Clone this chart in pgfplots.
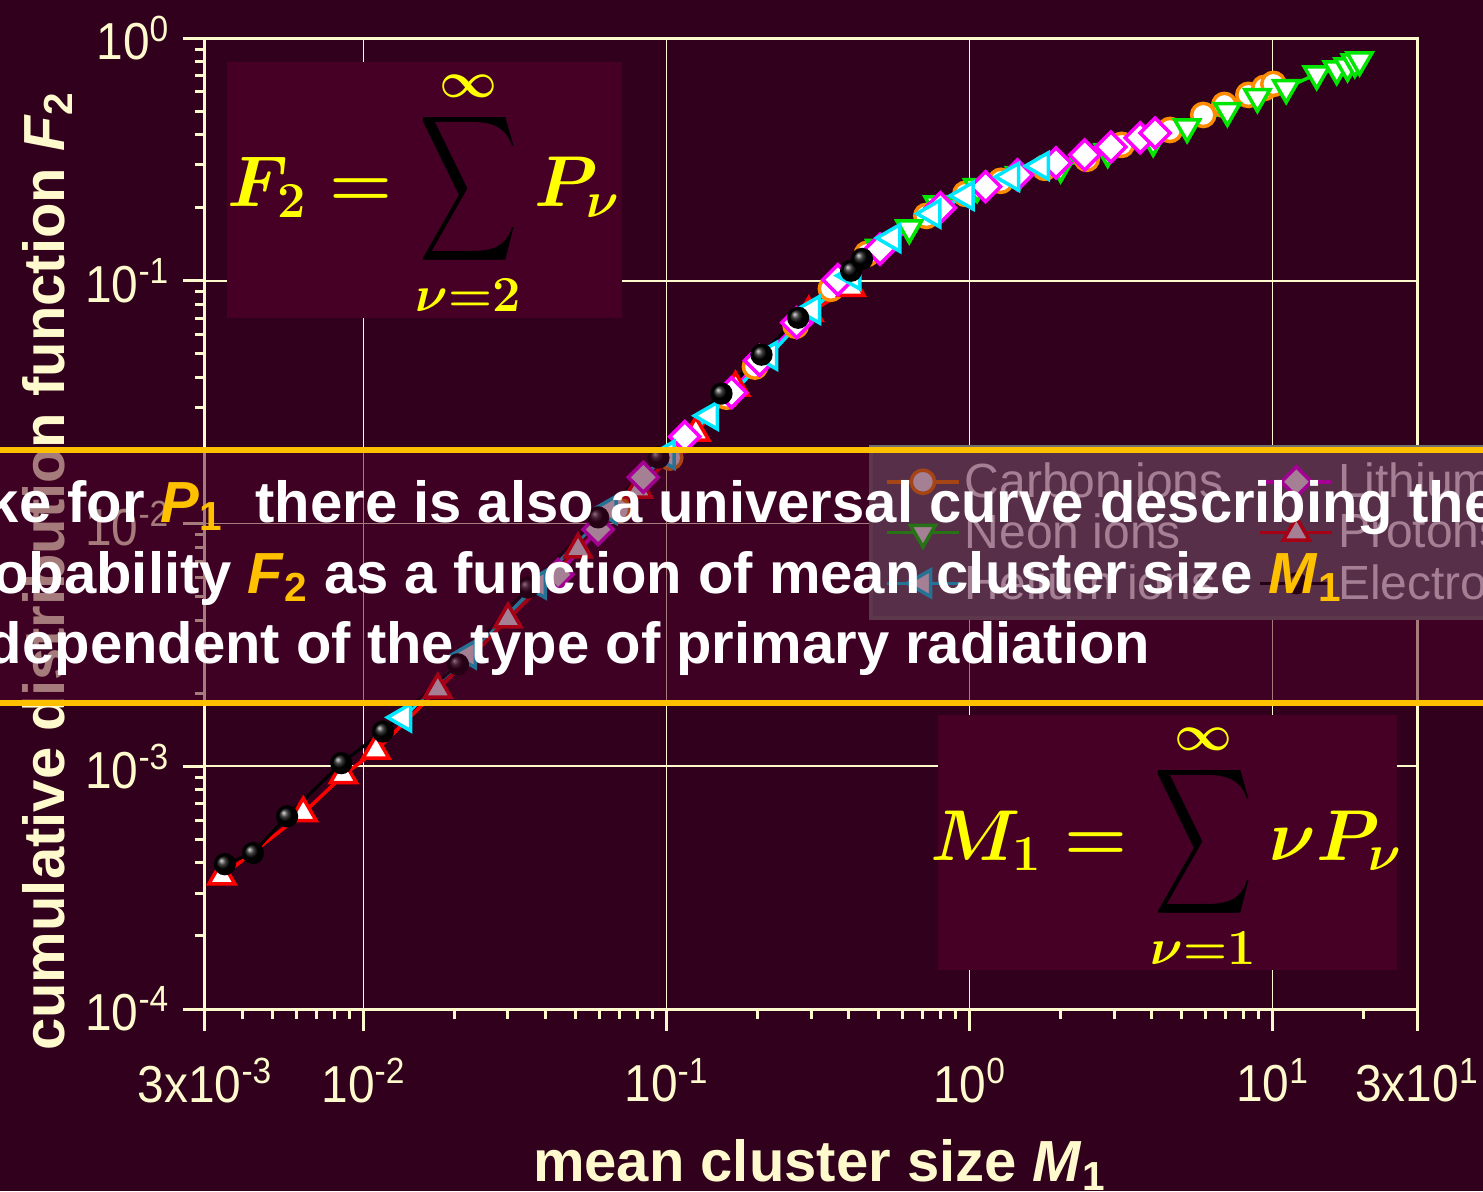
\RequirePackage{fix-cm}
\documentclass[border=0pt]{standalone}
\usepackage{amsmath}
\usepackage[no-math]{fontspec}
\setmainfont{Liberation Sans}
\usepackage{graphicx}
\usepackage{pgfplots}
\pgfplotsset{compat=1.18}
\definecolor{bg}{RGB}{48,0,28}
\definecolor{boxc}{RGB}{70,0,38}
\definecolor{bandc}{RGB}{76,0,42}
\definecolor{cream}{RGB}{255,250,205}
\definecolor{gold}{RGB}{255,192,0}
\definecolor{fyel}{RGB}{255,255,0}
\definecolor{corange}{RGB}{255,140,0}
\definecolor{cmag}{RGB}{255,0,255}
\definecolor{cgreen}{RGB}{0,230,0}
\definecolor{cred}{RGB}{255,0,0}
\definecolor{ccyan}{RGB}{0,230,255}
\definecolor{legfill}{RGB}{100,95,105}
\definecolor{legdraw}{RGB}{112,112,112}
\newsavebox\sumbox
\newsavebox\formA
\newsavebox\formB
\pgfplotsset{
  carbon/.style={draw=corange, line width=1.75pt, mark=*, mark size=5.8pt, mark options={solid, fill=white, draw=corange, line width=1.75pt}},
  neon/.style={draw=cgreen, line width=1.75pt, mark=triangle*, mark size=7.2pt, mark options={solid, rotate=180, fill=white, draw=cgreen, line width=1.75pt}},
  proton/.style={draw=cred, line width=1.75pt, mark=triangle*, mark size=7.5pt, mark options={solid, fill=white, draw=cred, line width=1.75pt}},
  lithium/.style={draw=cmag, line width=1.75pt, mark=square*, mark size=5.3pt, mark options={solid, rotate=45, fill=white, draw=cmag, line width=1.75pt}},
  helium/.style={draw=ccyan, line width=1.75pt, mark=triangle*, mark size=7.7pt, mark options={solid, rotate=90, fill=white, draw=ccyan, line width=1.75pt}},
  electron/.style={draw=black, line width=1.5pt, mark=ball, mark size=4.8pt, mark options={solid, ball color=black}},
}
\begin{document}
\sbox\sumbox{\fontsize{36}{40}\selectfont$\displaystyle\sum$}%
\sbox\formA{\fontsize{36}{40}\selectfont\color{fyel}\boldmath$F_2 = \mathop{\vcenter{\hbox{\scalebox{1.37}[2.05]{\usebox\sumbox}}}}\limits_{\nu=2}^{\infty} P_\nu$}%
\sbox\formB{\fontsize{36}{40}\selectfont\color{fyel}\boldmath$M_1 = \mathop{\vcenter{\hbox{\scalebox{1.37}[2.05]{\usebox\sumbox}}}}\limits_{\nu=1}^{\infty} \nu P_\nu$}%
\raisebox{0pt}[595.5pt][0pt]{%
\begin{tikzpicture}[trim left=0pt, trim right=741.5pt, baseline=0pt]
\clip (0,0) rectangle (741.5pt,595.5pt);
\fill[bg] (0,0) rectangle (741.5pt,595.5pt);
\begin{axis}[
  at={(102.5pt,91pt)}, anchor=south west,
  scale only axis, width=606pt, height=485.5pt,
  xmode=log, ymode=log, xmin=0.003, xmax=30, ymin=1e-4, ymax=1,
  axis line style={cream, line width=1.5pt},
  tick align=outside, xtick pos=left, ytick pos=left,
  major tick length=11pt, minor tick length=5pt,
  tick style={cream, line width=1.5pt},
  minor tick style={cream, line width=1.5pt},
  xtick={0.003,0.01,0.1,1,10,30},
  xticklabels={3x10\textsuperscript{-3},10\textsuperscript{-2},10\textsuperscript{-1},10\textsuperscript{0},10\textsuperscript{1},3x10\textsuperscript{1}},
  minor xtick={0.004,0.005,0.006,0.007,0.008,0.009,0.02,0.03,0.04,0.05,0.06,0.07,0.08,0.09,0.2,0.3,0.4,0.5,0.6,0.7,0.8,0.9,2,3,4,5,6,7,8,9,20},
  ytick={1e-4,1e-3,1e-2,1e-1,1},
  yticklabels={10\textsuperscript{-4},10\textsuperscript{-3},10\textsuperscript{-2},10\textsuperscript{-1},10\textsuperscript{0}},
  minor ytick={2e-4,3e-4,4e-4,5e-4,6e-4,7e-4,8e-4,9e-4,2e-3,3e-3,4e-3,5e-3,6e-3,7e-3,8e-3,9e-3,0.02,0.03,0.04,0.05,0.06,0.07,0.08,0.09,0.2,0.3,0.4,0.5,0.6,0.7,0.8,0.9},
  grid=major, major grid style={cream, line width=0.8pt},
  ticklabel style={text=cream, font=\fontsize{26}{30}\selectfont, xscale=0.92},
  xticklabel style={yshift=-10pt},
  yticklabel style={xshift=-4pt},
  xlabel={\bfseries mean cluster size \textit{M}\textsubscript{1}},
  ylabel={\bfseries cumulative distribution function \textit{F}\textsubscript{2}},
  x label style={at={(axis description cs:0.507,-0.178)}, anchor=base, inner sep=0pt, text=cream, font=\fontsize{29}{34}\selectfont},
  y label style={at={(axis description cs:-0.1163,0.451)}, anchor=base, inner sep=0pt, text=cream, font=\fontsize{29}{34}\selectfont},
  legend columns=2,
  legend cell align=left,
  legend style={at={(0.548,0.581)}, anchor=north west, fill=legfill, draw=legdraw, line width=2pt, text=white, font=\fontsize{24}{28}\selectfont, row sep=2.5pt, inner xsep=7pt, inner ysep=6pt},
  legend image code/.code={\draw[mark repeat=2,mark phase=2,#1] plot coordinates {(0pt,0pt) (18pt,0pt) (36pt,0pt)};},
]
\addlegendimage{carbon}\addlegendentry{\makebox[145pt][l]{Carbon ions}}
\addlegendimage{lithium}\addlegendentry{Lithium ions}
\addlegendimage{neon}\addlegendentry{\makebox[145pt][l]{Neon ions}}
\addlegendimage{proton}\addlegendentry{Protons}
\addlegendimage{helium}\addlegendentry{\makebox[145pt][l]{Helium ions}}
\addlegendimage{electron}\addlegendentry{Electrons}

\addplot[carbon, forget plot] coordinates {(0.0693,0.0114)(0.103,0.0187)(0.158,0.0333)(0.196,0.0443)(0.267,0.0653)(0.349,0.0927)(0.459,0.129)(0.721,0.185)(0.970,0.228)(1.27,0.258)(1.77,0.292)(2.44,0.318)(3.18,0.363)(4.59,0.418)(5.91,0.482)(6.94,0.530)(8.33,0.583)(9.41,0.623)(10.07,0.647)};
\addplot[neon, forget plot] coordinates {(0.504,0.137)(0.633,0.165)(0.784,0.207)(1.06,0.244)(1.46,0.273)(2.00,0.294)(2.86,0.340)(4.04,0.377)(5.23,0.430)(7.10,0.501)(8.92,0.572)(11.1,0.623)(14.0,0.711)(16.3,0.745)(17.7,0.767)(18.7,0.797)(19.4,0.811)};
\addplot[proton, forget plot] coordinates {(0.00341,3.52e-4)(0.00633,6.41e-4)(0.00859,9.19e-4)(0.0110,1.16e-3)(0.0176,2.07e-3)(0.0300,4.03e-3)(0.0511,7.82e-3)(0.0808,0.0138)(0.125,0.0237)(0.169,0.0363)(0.295,0.0738)(0.407,0.0935)};
\addplot[lithium, forget plot] coordinates {(0.0439,6.17e-3)(0.0595,9.45e-3)(0.0839,0.0155)(0.115,0.0228)(0.164,0.0346)(0.203,0.0469)(0.269,0.0672)(0.368,0.101)(0.507,0.135)(0.802,0.200)(1.13,0.244)(1.44,0.273)(1.93,0.306)(2.40,0.330)(2.93,0.356)(3.66,0.388)(4.10,0.406)};
\addplot[helium, forget plot] coordinates {(0.0135,1.59e-3)(0.0221,2.89e-3)(0.0376,5.61e-3)(0.0643,0.0114)(0.100,0.0192)(0.139,0.0278)(0.218,0.0491)(0.302,0.0760)(0.410,0.105)(0.556,0.150)(0.754,0.189)(0.970,0.224)(1.37,0.268)(1.72,0.297)};
\addplot[electron, forget plot] coordinates {(0.00349,3.95e-4)(0.00432,4.39e-4)(0.00560,6.22e-4)(0.00845,1.03e-3)(0.0116,1.39e-3)(0.0205,2.63e-3)(0.0349,5.45e-3)(0.0595,0.0106)(0.0941,0.0187)(0.152,0.0343)(0.206,0.0496)(0.272,0.0704)(0.407,0.110)(0.442,0.123)};
\end{axis}
\begin{scope}[shift={(0pt,595.5pt)}, x=0.5pt, y=-0.5pt]
\fill[boxc] (227,62) rectangle (622,318);
\fill[boxc] (938,715) rectangle (1397,970);
\node[anchor=base, inner sep=0pt] at (424,207) {\usebox\formA};
\node[anchor=base, inner sep=0pt] at (1166,860) {\usebox\formB};
\fill[bandc, opacity=0.5] (-10,453) rectangle (1500,700);
\draw[gold, line width=3pt] (-10,450) -- (1500,450);
\draw[gold, line width=3pt] (-10,703) -- (1500,703);
\node[anchor=base west, inner sep=0pt, text=white, font=\fontsize{29}{35}\selectfont\bfseries] at (-65,522) {Like for \textcolor{gold}{\textit{P}\textsubscript{1}}\ \ there is also a universal curve describing the};
\node[anchor=base west, inner sep=0pt, text=white, font=\fontsize{29}{35}\selectfont\bfseries] at (-65,593) {probability \textcolor{gold}{\textit{F}\textsubscript{2}} as a function of mean cluster size \textcolor{gold}{\textit{M}\textsubscript{1}}};
\node[anchor=base west, inner sep=0pt, text=white, font=\fontsize{29}{35}\selectfont\bfseries] at (-65,663) {independent of the type of primary radiation};
\end{scope}
\end{tikzpicture}}%
\end{document}
